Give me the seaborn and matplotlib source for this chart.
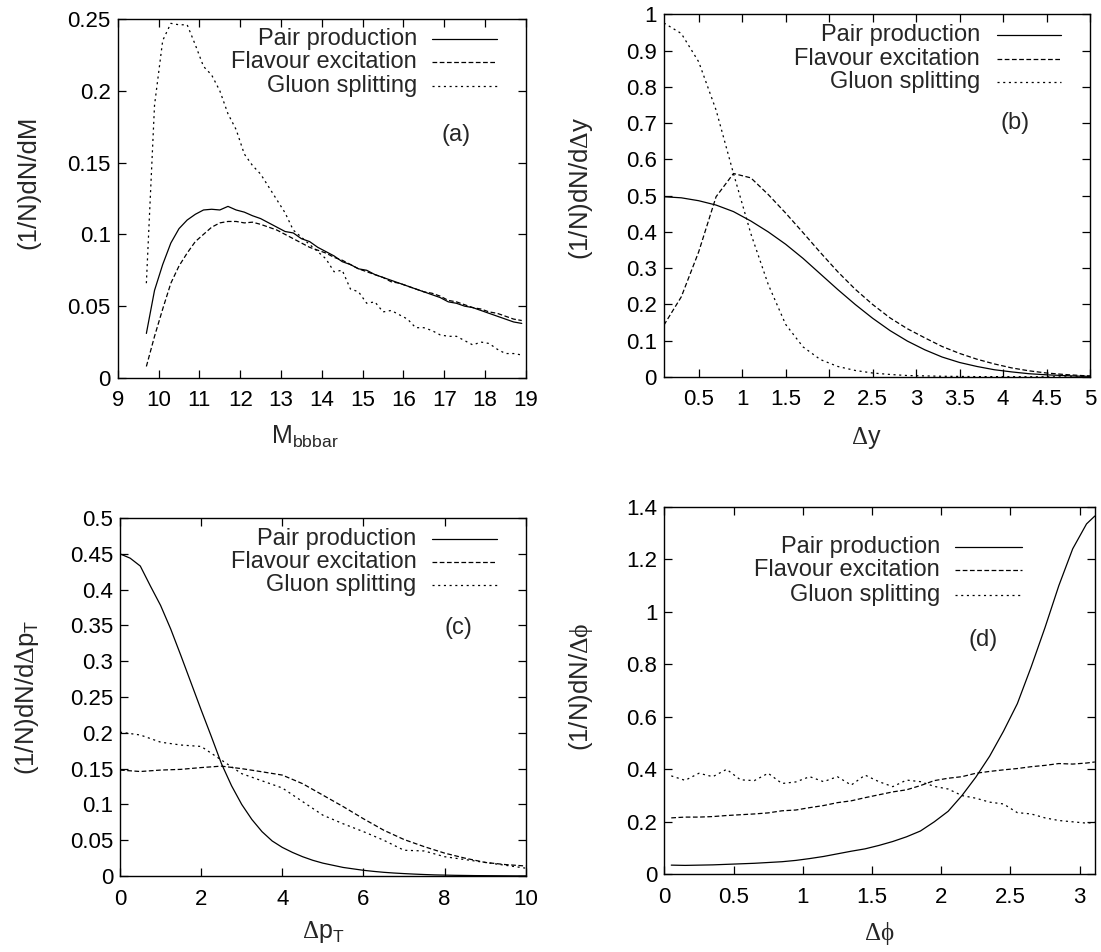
import numpy as np
import matplotlib
matplotlib.use("Agg")
import matplotlib.pyplot as plt
import seaborn as sns
from matplotlib.ticker import FormatStrFormatter, FixedLocator

SERIES = ["Pair production", "Flavour excitation", "Gluon splitting"]

# ---- (a) invariant mass of the b-bbar pair ----
mass = [9.7, 9.9, 10.1, 10.3, 10.5, 10.7, 10.9, 11.1, 11.3, 11.5, 11.7, 11.9,
        12.1, 12.3, 12.5, 12.7, 12.9, 13.1, 13.3, 13.5, 13.7, 13.9, 14.1, 14.3,
        14.5, 14.7, 14.9, 15.1, 15.3, 15.5, 15.7, 15.9, 16.1, 16.3, 16.5, 16.7,
        16.9, 17.1, 17.3, 17.5, 17.7, 17.9, 18.1, 18.3, 18.5, 18.7, 18.9]
mass_pair = [0.031, 0.061, 0.079, 0.094, 0.104, 0.110, 0.114, 0.117, 0.1175, 0.117,
             0.1195, 0.117, 0.1155, 0.113, 0.111, 0.108, 0.105, 0.102, 0.101, 0.097,
             0.095, 0.091, 0.088, 0.085, 0.081, 0.079, 0.076, 0.075, 0.072, 0.070,
             0.068, 0.066, 0.064, 0.062, 0.060, 0.058, 0.056, 0.053, 0.052, 0.050,
             0.049, 0.047, 0.045, 0.043, 0.041, 0.039, 0.038]
mass_flav = [0.008, 0.029, 0.048, 0.066, 0.078, 0.087, 0.095, 0.100, 0.105, 0.108,
             0.109, 0.109, 0.108, 0.1085, 0.107, 0.105, 0.103, 0.100, 0.097, 0.094,
             0.091, 0.089, 0.087, 0.084, 0.082, 0.079, 0.076, 0.074, 0.072, 0.070,
             0.067, 0.066, 0.064, 0.062, 0.060, 0.059, 0.057, 0.054, 0.053, 0.051,
             0.049, 0.048, 0.046, 0.045, 0.043, 0.041, 0.040]
mass_glu = [0.066, 0.190, 0.235, 0.247, 0.246, 0.246, 0.232, 0.217, 0.211, 0.200,
            0.184, 0.173, 0.156, 0.148, 0.142, 0.133, 0.124, 0.115, 0.103, 0.098,
            0.093, 0.088, 0.083, 0.074, 0.075, 0.062, 0.060, 0.052, 0.053, 0.046,
            0.047, 0.044, 0.041, 0.035, 0.035, 0.033, 0.030, 0.029, 0.029, 0.026,
            0.023, 0.025, 0.024, 0.020, 0.017, 0.017, 0.016]

# ---- (b) rapidity difference ----
dy = [0.1, 0.3, 0.5, 0.7, 0.9, 1.1, 1.3, 1.5, 1.7, 1.9, 2.1, 2.3, 2.5, 2.7,
      2.9, 3.1, 3.3, 3.5, 3.7, 3.9, 4.1, 4.3, 4.5, 4.7, 4.9, 5.0]
dy_pair = [0.497, 0.494, 0.486, 0.474, 0.456, 0.430, 0.400, 0.366, 0.327, 0.284,
           0.241, 0.200, 0.162, 0.128, 0.099, 0.075, 0.055, 0.040, 0.029, 0.020,
           0.014, 0.009, 0.006, 0.004, 0.002, 0.002]
dy_flav = [0.143, 0.221, 0.345, 0.497, 0.561, 0.549, 0.503, 0.452, 0.398, 0.343,
           0.290, 0.242, 0.200, 0.163, 0.133, 0.108, 0.084, 0.065, 0.049, 0.036,
           0.025, 0.017, 0.011, 0.007, 0.004, 0.003]
dy_glu = [0.976, 0.947, 0.869, 0.736, 0.561, 0.395, 0.255, 0.145, 0.083, 0.048,
          0.029, 0.018, 0.011, 0.007, 0.004, 0.003, 0.002, 0.0015, 0.001, 0.001,
          0.0008, 0.0006, 0.0005, 0.0004, 0.0003, 0.0003]

# ---- (c) transverse momentum difference ----
dpt_fine = [0.0, 0.25, 0.5, 0.75, 1.0, 1.25, 1.5, 1.75, 2.0, 2.25, 2.5, 2.75,
            3.0, 3.25, 3.5, 3.75, 4.0, 4.25, 4.5, 4.75, 5.0, 5.25, 5.5, 5.75,
            6.0, 6.25, 6.5, 6.75, 7.0, 7.25, 7.5, 7.75, 8.0, 8.25, 8.5, 8.75,
            9.0, 9.25, 9.5, 9.75, 10.0]
dpt_pair = [0.450, 0.444, 0.433, 0.405, 0.378, 0.345, 0.308, 0.270, 0.232, 0.195,
            0.157, 0.126, 0.100, 0.079, 0.062, 0.049, 0.040, 0.033, 0.027, 0.022,
            0.018, 0.015, 0.012, 0.010, 0.008, 0.0065, 0.0052, 0.0042, 0.0034,
            0.0027, 0.0021, 0.0016, 0.0013, 0.0010, 0.0008, 0.0006, 0.0005,
            0.0004, 0.0003, 0.0002, 0.0002]
dpt = [0.0, 0.5, 1.0, 1.5, 2.0, 2.5, 3.0, 3.5, 4.0, 4.5, 5.0, 5.5, 6.0, 6.5,
       7.0, 7.5, 8.0, 8.5, 9.0, 9.5, 10.0]
dpt_flav = [0.148, 0.146, 0.148, 0.149, 0.1515, 0.1535, 0.150, 0.1456, 0.141, 0.129,
            0.113, 0.097, 0.080, 0.064, 0.051, 0.041, 0.032, 0.025, 0.019, 0.016,
            0.014]
dpt_glu = [0.201, 0.197, 0.187, 0.183, 0.181, 0.162, 0.143, 0.133, 0.123, 0.104,
           0.085, 0.073, 0.062, 0.050, 0.036, 0.035, 0.027, 0.023, 0.019, 0.015,
           0.011]

# ---- (d) azimuthal separation ----
dphi = [0.05, 0.15, 0.25, 0.35, 0.45, 0.55, 0.65, 0.75, 0.85, 0.95, 1.05, 1.15,
        1.25, 1.35, 1.45, 1.55, 1.65, 1.75, 1.85, 1.95, 2.05, 2.15, 2.25, 2.35,
        2.45, 2.55, 2.65, 2.75, 2.85, 2.95, 3.05, 3.11]
dphi_pair = [0.035, 0.034, 0.035, 0.036, 0.038, 0.040, 0.042, 0.045, 0.048, 0.053,
             0.060, 0.068, 0.078, 0.088, 0.097, 0.110, 0.125, 0.143, 0.165, 0.200,
             0.240, 0.300, 0.370, 0.450, 0.545, 0.650, 0.790, 0.940, 1.100, 1.240,
             1.335, 1.365]
dphi_flav = [0.215, 0.218, 0.218, 0.220, 0.224, 0.227, 0.230, 0.234, 0.242, 0.245,
             0.254, 0.262, 0.273, 0.280, 0.292, 0.303, 0.314, 0.322, 0.338, 0.357,
             0.366, 0.372, 0.385, 0.392, 0.398, 0.403, 0.410, 0.415, 0.422, 0.420,
             0.424, 0.428]
dphi_glu = [0.375, 0.358, 0.385, 0.372, 0.400, 0.360, 0.357, 0.385, 0.346, 0.352,
            0.372, 0.353, 0.372, 0.340, 0.378, 0.353, 0.334, 0.359, 0.353, 0.335,
            0.325, 0.300, 0.290, 0.275, 0.268, 0.235, 0.230, 0.215, 0.205, 0.200,
            0.195, 0.198]

FS_TICK = 16
FS_KEY = 17
FS_XLAB = 18
FS_YLAB = 18.5
LW = 0.9
STYLES = {
    "Pair production": "-",
    "Flavour excitation": (0, (3.4, 1.8)),
    "Gluon splitting": (0, (1.5, 2.6)),
}

sns.set_theme(style="ticks", rc={
    "xtick.direction": "in", "ytick.direction": "in",
    "xtick.top": True, "ytick.right": True,
    "xtick.major.size": 5.5, "ytick.major.size": 5.5,
    "xtick.major.width": 0.9, "ytick.major.width": 0.9,
    "axes.linewidth": 1.0, "axes.edgecolor": "black",
    "xtick.color": "black", "ytick.color": "black",
    "xtick.major.pad": 9, "ytick.major.pad": 5,
    "lines.scale_dashes": False,
})
plt.rcParams["font.family"] = ["Liberation Sans", "DejaVu Sans"]
plt.rcParams["mathtext.fontset"] = "custom"
plt.rcParams["mathtext.rm"] = "Liberation Sans"
plt.rcParams["mathtext.it"] = "Liberation Sans:italic"
plt.rcParams["mathtext.bf"] = "Liberation Serif"
plt.rcParams["font.size"] = FS_TICK

fig = plt.figure(figsize=(11.01, 9.52), dpi=100)

panels = [
    dict(rect=[0.107, 0.603, 0.3706, 0.377], tag="(a)", tagxy=(17.3, 0.169),
         curves=[(mass, mass_pair), (mass, mass_flav), (mass, mass_glu)],
         xlim=(9, 19), ylim=(0, 0.25),
         xticks=[9, 10, 11, 12, 13, 14, 15, 16, 17, 18, 19],
         yticks=[0, 0.05, 0.1, 0.15, 0.2, 0.25],
         xlabel=r"M$_{\mathrm{bbbar}}$", ylabel="(1/N)dN/dM",
         xlab=(0.459, -0.184), ylab=(-0.19, 0.545),
         key=(0.733, 0.770, 0.929, [0.944, 0.880, 0.813])),
    dict(rect=[0.603, 0.604, 0.387, 0.381], tag="(b)", tagxy=(4.14, 0.70),
         curves=[(dy, dy_pair), (dy, dy_flav), (dy, dy_glu)],
         xlim=(0.1, 5), ylim=(0, 1),
         xticks=[0.5, 1, 1.5, 2, 2.5, 3, 3.5, 4, 4.5, 5],
         yticks=[0, 0.1, 0.2, 0.3, 0.4, 0.5, 0.6, 0.7, 0.8, 0.9, 1],
         xlabel=r"$\mathbf{\Delta}$y", ylabel=r"(1/N)dN/d$\mathbf{\Delta}$y",
         xlab=(0.476, -0.185), ylab=(-0.162, 0.52),
         key=(0.742, 0.781, 0.933, [0.942, 0.876, 0.814])),
    dict(rect=[0.109, 0.0798, 0.3685, 0.376], tag="(c)", tagxy=(8.33, 0.347),
         curves=[(dpt_fine, dpt_pair), (dpt, dpt_flav), (dpt, dpt_glu)],
         xlim=(0, 10), ylim=(0, 0.5),
         xticks=[0, 2, 4, 6, 8, 10],
         yticks=[0, 0.05, 0.1, 0.15, 0.2, 0.25, 0.3, 0.35, 0.4, 0.45, 0.5],
         xlabel=r"$\mathbf{\Delta}$p$_{\mathrm{T}}$",
         ylabel=r"(1/N)dN/d$\mathbf{\Delta}$p$_{\mathrm{T}}$",
         xlab=(0.5, -0.173), ylab=(-0.194, 0.5),
         key=(0.731, 0.770, 0.928, [0.942, 0.877, 0.812])),
    dict(rect=[0.6034, 0.0816, 0.391, 0.386], tag="(d)", tagxy=(2.30, 0.892),
         curves=[(dphi, dphi_pair), (dphi, dphi_flav), (dphi, dphi_glu)],
         xlim=(0, 3.11), ylim=(0, 1.4),
         xticks=[0, 0.5, 1, 1.5, 2, 2.5, 3],
         yticks=[0, 0.2, 0.4, 0.6, 0.8, 1, 1.2, 1.4],
         xlabel=r"$\mathbf{\Delta\phi}$", ylabel=r"(1/N)dN/$\mathbf{\Delta\phi}$",
         xlab=(0.5, -0.18), ylab=(-0.161, 0.51),
         key=(0.640, 0.675, 0.830, [0.891, 0.828, 0.760])),
]

for p in panels:
    ax = fig.add_axes(p["rect"])
    for name, (xs, ys) in zip(SERIES, p["curves"]):
        sns.lineplot(x=xs, y=ys, ax=ax, color="black", linewidth=LW,
                     linestyle=STYLES[name], estimator=None, sort=False)
    ax.set_xlim(*p["xlim"])
    ax.set_ylim(*p["ylim"])
    ax.xaxis.set_major_locator(FixedLocator(p["xticks"]))
    ax.yaxis.set_major_locator(FixedLocator(p["yticks"]))
    ax.xaxis.set_major_formatter(FormatStrFormatter("%g"))
    ax.yaxis.set_major_formatter(FormatStrFormatter("%g"))
    ax.tick_params(labelsize=FS_TICK)
    ax.set_xlabel(p["xlabel"], fontsize=FS_XLAB)
    ax.set_ylabel(p["ylabel"], fontsize=FS_YLAB)
    ax.xaxis.set_label_coords(*p["xlab"])
    ax.xaxis.label.set_verticalalignment("baseline")
    ax.yaxis.set_label_coords(*p["ylab"])
    ax.text(*p["tagxy"], p["tag"], ha="center", va="center", fontsize=FS_KEY)

    # key: right-justified titles followed by a line sample
    tx, x0, x1, rows = p["key"]
    for name, yk in zip(SERIES, rows):
        ax.text(tx, yk, name, transform=ax.transAxes, ha="right", va="center",
                fontsize=FS_KEY)
        ax.plot([x0, x1], [yk, yk], transform=ax.transAxes, color="black",
                linewidth=LW, linestyle=STYLES[name])
    for s in ax.spines.values():
        s.set_visible(True)

fig.savefig("out.png", dpi=100, facecolor="white")
